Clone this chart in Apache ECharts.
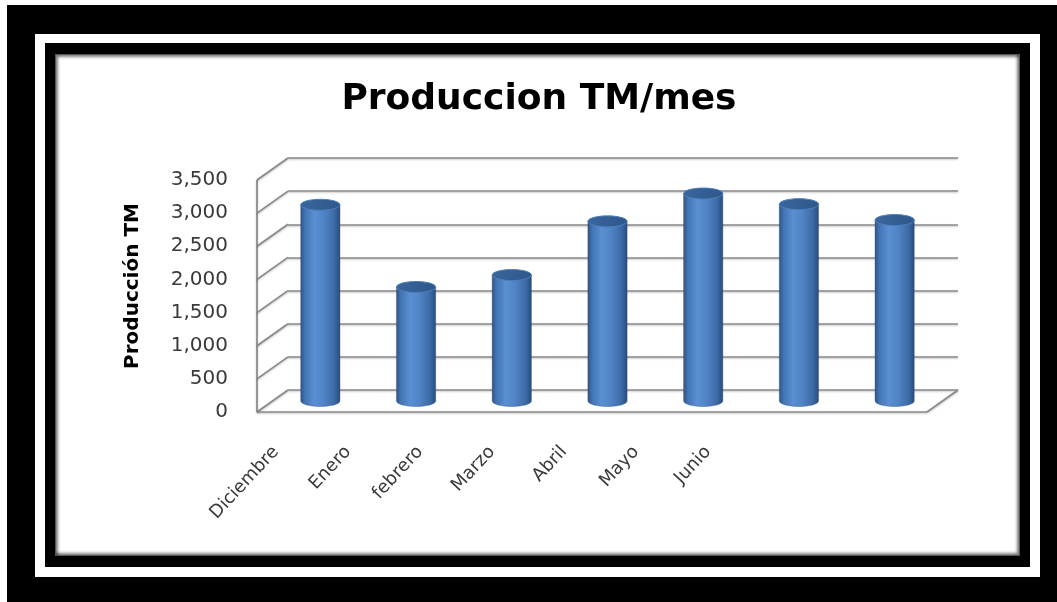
<!DOCTYPE html>
<html><head><meta charset="utf-8">
<script src="https://cdn.jsdelivr.net/npm/echarts@6/dist/echarts.min.js"></script>
<style>
html,body{margin:0;padding:0;width:1057px;height:602px;overflow:hidden;background:#fff;}
.f1{position:absolute;left:7px;top:5px;width:1050px;height:597px;background:#000;}
.f2{position:absolute;left:35px;top:34px;width:1005px;height:543px;background:#fff;}
.f3{position:absolute;left:45px;top:43px;width:985px;height:524px;background:#000;}
.panel{position:absolute;left:55px;top:54px;width:965px;height:502px;background:#fff;box-sizing:border-box;border:1px solid #555;box-shadow:inset 2px 2px 3px rgba(0,0,0,0.5),inset -2px -2px 3px rgba(0,0,0,0.5);}
#chart{position:absolute;left:0;top:0;width:1057px;height:602px;}
</style></head>
<body>
<div class="f1"></div><div class="f2"></div><div class="f3"></div><div class="panel"></div>
<div id="chart"></div>
<script>
// ---- data ----
const categories = ['Diciembre', 'Enero', 'febrero', 'Marzo', 'Abril', 'Mayo', 'Junio'];
const production = [2960, 1720, 1900, 2710, 3130, 2970, 2730];
const yTicks = [0, 500, 1000, 1500, 2000, 2500, 3000, 3500];
const yTickLabels = ['0', '500', '1,000', '1,500', '2,000', '2,500', '3,000', '3,500'];
const chartTitle = 'Produccion TM/mes';
const yAxisTitle = 'Producción TM';

// ---- layout (3D look: back wall, mid plane for bars, front plane) ----
const DX = 31, DY = 22;               // depth offset (front -> back)
const BACK = {left: 288, top: 158, width: 670, height: 232};
const MID = {left: BACK.left - DX / 2, top: BACK.top + DY / 2, width: 670, height: 232};
const FRONT = {left: BACK.left - DX, top: BACK.top + DY, width: 670, height: 232};
const LABELS = {left: 240, top: FRONT.top, width: 504, height: 232};
const FONT = '"DejaVu Sans", sans-serif';
const yMin = yTicks[0], yMax = yTicks[yTicks.length - 1], yStep = yTicks[1] - yTicks[0];

const chart = echarts.init(document.getElementById('chart'), null, {renderer: 'canvas'});

function valueAxis(gi, extra) {
  return Object.assign({
    type: 'value', gridIndex: gi, min: yMin, max: yMax, interval: yStep,
    axisLine: {show: false}, axisTick: {show: false}, axisLabel: {show: false}, splitLine: {show: false}
  }, extra || {});
}
function catAxis(gi, extra) {
  return Object.assign({
    type: 'category', gridIndex: gi, data: categories,
    axisLine: {show: false}, axisTick: {show: false}, axisLabel: {show: false}, splitLine: {show: false}
  }, extra || {});
}

const K = 0.5523;
function ellipsePath(cx, cy, rx, ry) {
  return 'M' + (cx - rx) + ' ' + cy +
    ' C' + (cx - rx) + ' ' + (cy - K * ry) + ' ' + (cx - K * rx) + ' ' + (cy - ry) + ' ' + cx + ' ' + (cy - ry) +
    ' C' + (cx + K * rx) + ' ' + (cy - ry) + ' ' + (cx + rx) + ' ' + (cy - K * ry) + ' ' + (cx + rx) + ' ' + cy +
    ' C' + (cx + rx) + ' ' + (cy + K * ry) + ' ' + (cx + K * rx) + ' ' + (cy + ry) + ' ' + cx + ' ' + (cy + ry) +
    ' C' + (cx - K * rx) + ' ' + (cy + ry) + ' ' + (cx - rx) + ' ' + (cy + K * ry) + ' ' + (cx - rx) + ' ' + cy + ' Z';
}

const gridStroke = {stroke: '#8a8a8a', lineWidth: 1.7, shadowColor: 'rgba(0,0,0,0.25)', shadowBlur: 2, shadowOffsetY: 1};

const option = {
  animation: false,
  grid: [
    Object.assign({containLabel: false}, BACK),
    Object.assign({containLabel: false}, MID),
    Object.assign({containLabel: false}, FRONT),
    Object.assign({containLabel: false}, LABELS)
  ],
  xAxis: [
    catAxis(0), catAxis(1), catAxis(2),
    catAxis(3, {axisLabel: {show: true, interval: 0, rotate: 47, margin: 37, fontSize: 18, fontFamily: FONT, color: '#3a3a3a'}})
  ],
  yAxis: [
    valueAxis(0, {splitLine: {show: true, lineStyle: {color: '#8a8a8a', width: 1.7, shadowColor: 'rgba(0,0,0,0.25)', shadowBlur: 2, shadowOffsetY: 1}}}),
    valueAxis(1),
    valueAxis(2, {axisLabel: {show: true, margin: 29, fontSize: 20, fontFamily: FONT, color: '#3a3a3a',
      formatter: function (v) { const i = yTicks.indexOf(v); return i >= 0 ? yTickLabels[i] : ''; }}}),
    valueAxis(3)
  ],
  graphic: [
    {type: 'text', x: 539, y: 100, style: {text: chartTitle, textAlign: 'center', textVerticalAlign: 'middle',
      font: 'bold 36px "DejaVu Sans", sans-serif', fill: '#000'}},
    {type: 'text', x: 133, y: 286, rotation: Math.PI / 2, style: {text: yAxisTitle, textAlign: 'center', textVerticalAlign: 'middle',
      font: 'bold 20px "DejaVu Sans", sans-serif', fill: '#000'}}
  ],
  series: [
    {
      // side wall diagonals, front edges and floor
      type: 'custom', xAxisIndex: 2, yAxisIndex: 2, silent: true, z: 1,
      data: yTicks.map(v => [0, v]),
      encode: {x: 0, y: 1},
      renderItem: function (params, api) {
        const cs = params.coordSys;
        const v = api.value(1);
        const y = api.coord([0, v])[1];
        const x = cs.x;
        const children = [{type: 'line', shape: {x1: x, y1: y, x2: x + DX, y2: y - DY}, style: gridStroke}];
        if (v === yMin) {
          const yTop = api.coord([0, yMax])[1];
          children.push({type: 'line', shape: {x1: x, y1: y, x2: x + cs.width, y2: y}, style: gridStroke});
          children.push({type: 'line', shape: {x1: x + cs.width, y1: y, x2: x + cs.width + DX, y2: y - DY}, style: gridStroke});
          children.push({type: 'line', shape: {x1: x, y1: y, x2: x, y2: yTop}, style: gridStroke});
        }
        return {type: 'group', children: children};
      }
    },
    {
      // cylinders
      type: 'custom', xAxisIndex: 1, yAxisIndex: 1, z: 5,
      data: production.map((v, i) => [i, v]),
      encode: {x: 0, y: 1},
      renderItem: function (params, api) {
        const i = api.value(0), v = api.value(1);
        const top = api.coord([i, v]);
        const base = api.coord([i, 0]);
        const bw = api.size([1, 0])[0] * 0.41;
        const rx = bw / 2, ry = 5.5;
        const cx = top[0], x0 = cx - rx, x1 = cx + rx, ty = top[1], by = base[1];
        const body = 'M' + x0 + ' ' + ty + ' L' + x0 + ' ' + by +
          ' C' + x0 + ' ' + (by + K * ry) + ' ' + (cx - K * rx) + ' ' + (by + ry) + ' ' + cx + ' ' + (by + ry) +
          ' C' + (cx + K * rx) + ' ' + (by + ry) + ' ' + x1 + ' ' + (by + K * ry) + ' ' + x1 + ' ' + by +
          ' L' + x1 + ' ' + ty + ' Z';
        const bodyFill = {type: 'linear', x: 0, y: 0, x2: 1, y2: 0, colorStops: [
          {offset: 0, color: '#2c5387'}, {offset: 0.12, color: '#4475b4'}, {offset: 0.35, color: '#5a8fd2'},
          {offset: 0.6, color: '#4f83c4'}, {offset: 0.85, color: '#3c6aa6'}, {offset: 1, color: '#284b7c'}]};
        const capFill = {type: 'linear', x: 0, y: 0, x2: 1, y2: 1, colorStops: [
          {offset: 0, color: '#3a679f'}, {offset: 1, color: '#2e5689'}]};
        return {type: 'group', children: [
          {type: 'path', shape: {pathData: body}, style: {fill: bodyFill, stroke: 'rgba(40,70,115,0.6)', lineWidth: 0.6}},
          {type: 'path', shape: {pathData: ellipsePath(cx, ty, rx, ry)}, style: {fill: capFill, stroke: '#4f7fbd', lineWidth: 1}}
        ]};
      }
    }
  ]
};
chart.setOption(option);
</script>
</body></html>
